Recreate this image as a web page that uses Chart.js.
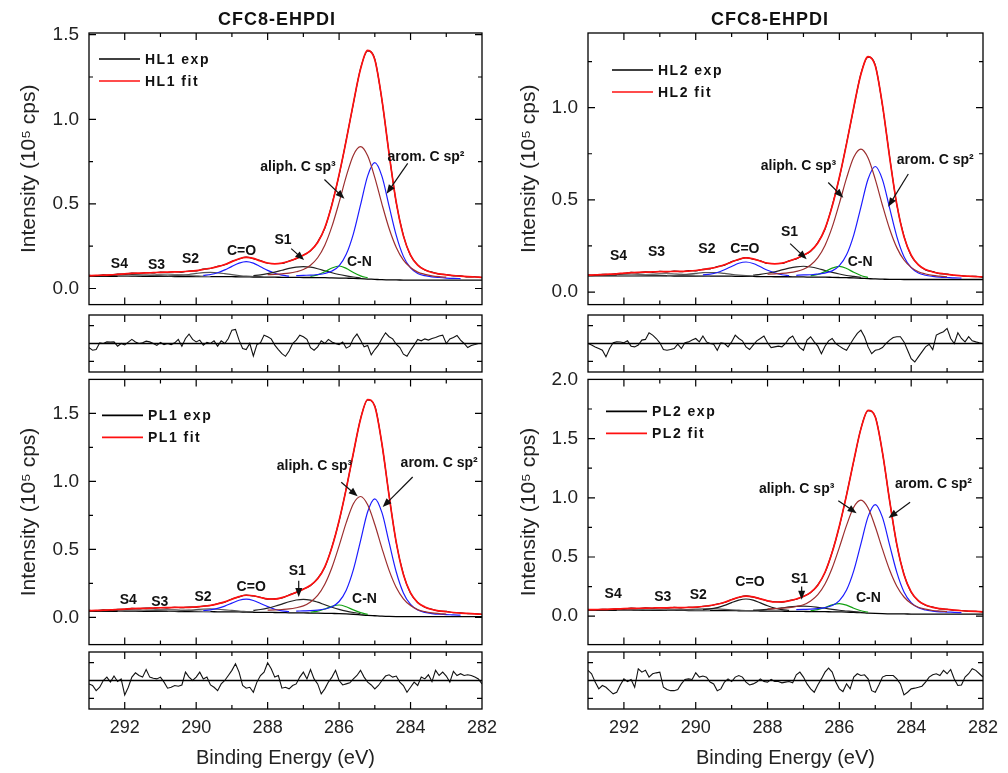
<!DOCTYPE html>
<html>
<head>
<meta charset="utf-8">
<script src="https://cdn.jsdelivr.net/npm/chart.js@4.4.1/dist/chart.umd.min.js"></script>
<style>
  body { margin: 0; background: #fff; overflow: hidden; width: 1008px; height: 773px; }
  canvas { position: absolute; }
</style>
</head>
<body>
<script>
// binding energy grid (eV) for the fitted curves
const energy = [293.0,292.8,292.6,292.4,292.2,292.0,291.8,291.6,291.4,291.2,
  291.0,290.8,290.6,290.4,290.2,290.0,289.8,289.6,289.4,289.2,
  289.0,288.8,288.6,288.4,288.2,288.0,287.8,287.6,287.4,287.2,
  287.0,286.8,286.6,286.4,286.2,286.0,285.8,285.6,285.4,285.2,
  285.0,284.8,284.6,284.4,284.2,284.0,283.8,283.6,283.4,283.2,
  283.0,282.8,282.6,282.4,282.2,282.0];

// energy grid for the residuals
const resEnergy = [293.0,292.9,292.8,292.7,292.6,292.5,292.4,292.3,292.2,292.1,
  292.0,291.9,291.8,291.7,291.6,291.5,291.4,291.3,291.2,291.1,
  291.0,290.9,290.8,290.7,290.6,290.5,290.4,290.3,290.2,290.1,
  290.0,289.9,289.8,289.7,289.6,289.5,289.4,289.3,289.2,289.1,
  289.0,288.9,288.8,288.7,288.6,288.5,288.4,288.3,288.2,288.1,
  288.0,287.9,287.8,287.7,287.6,287.5,287.4,287.3,287.2,287.1,
  287.0,286.9,286.8,286.7,286.6,286.5,286.4,286.3,286.2,286.1,
  286.0,285.9,285.8,285.7,285.6,285.5,285.4,285.3,285.2,285.1,
  285.0,284.9,284.8,284.7,284.6,284.5,284.4,284.3,284.2,284.1,
  284.0,283.9,283.8,283.7,283.6,283.5,283.4,283.3,283.2,283.1,
  283.0,282.9,282.8,282.7,282.6,282.5,282.4,282.3,282.2,282.1,
  282.0];

// ---- HL1 ----
const fitHL1 = [.076,.078,.079,.081,.084,.087,.090,.091,.092,.094,
  .096,.097,.098,.099,.102,.106,.113,.120,.129,.142,
  .159,.176,.184,.178,.163,.151,.146,.150,.161,.178,
  .196,.224,.272,.359,.495,.673,.875,1.096,1.297,1.407,
  1.352,1.115,.795,.509,.311,.198,.138,.111,.095,.087,
  .081,.077,.073,.070,.068,.066];
const expHL1 = [.078,.075,.081,.079,.086,.085,.092,.089,.094,.092,
  .098,.095,.100,.097,.104,.104,.115,.118,.131,.140,
  .161,.174,.186,.176,.165,.149,.148,.148,.163,.176,
  .198,.222,.275,.356,.498,.670,.878,1.093,1.300,1.404,
  1.355,1.112,.798,.506,.314,.195,.140,.109,.097,.085,
  .083,.075,.075,.068,.070,.064];
const baseHL1 = [.072,.072,.072,.072,.072,.072,.072,.072,.072,.072,
  .072,.072,.071,.071,.071,.071,.070,.070,.070,.070,
  .070,.069,.069,.068,.068,.067,.067,.066,.066,.066,
  .065,.065,.064,.064,.063,.062,.061,.060,.058,.056,
  .054,.052,.051,.051,.050,.050,.050,.050,.050,.050,
  .050,.050,.050,.050,.050,.050];
const aliphHL1 = [.082,.084,.087,.091,.099,.112,.138,.182,.256,.367,.509,.663,.788,.838,.784,.655,.499,.355,.243,.168,.124,.097,.084,.075,.070,.067];
const aromHL1 = [.076,.078,.079,.083,.089,.103,.134,.202,.323,.494,.666,.744,.663,.487,.314,.190,.122,.089,.076,.069,.065,.062,.060,.059];
const cnHL1 = [.072,.081,.099,.121,.133,.119,.095,.075,.063];
const s1HL1 = [.077,.081,.088,.097,.108,.119,.127,.130,.126,.117,.105,.093,.083,.075,.068,.063];
const coHL1 = [.078,.083,.093,.110,.131,.150,.159,.150,.129,.107,.090,.079,.073];
const s2HL1 = [.074,.076,.079,.083,.089,.094,.095,.093,.088,.082,.077,.073,.071];
const s3HL1 = [.073,.073,.074,.076,.079,.081,.084,.085,.083,.081,.077,.075,.073,.072];
const s4HL1 = [.073,.074,.075,.077,.079,.081,.082,.081,.079,.077,.075,.073];
const resHL1 = [-0.23,-0.38,-0.34,0.04,0.00,0.09,0.08,0.09,-0.15,0.00,
  -0.08,0.08,0.23,0.09,0.00,0.04,0.13,0.09,0.00,-0.11,
  0.06,-0.06,0.00,-0.06,0.04,0.23,-0.15,0.28,0.53,0.23,
  0.09,0.19,-0.09,0.06,0.00,0.15,-0.15,0.15,0.00,0.28,
  0.75,0.79,0.19,-0.28,-0.34,0.00,-0.70,-0.06,0.04,0.47,
  0.38,0.26,-0.09,-0.34,-0.57,-0.72,-0.42,0.00,0.19,0.47,
  0.38,0.23,-0.23,-0.38,-0.19,0.15,0.00,0.23,0.09,0.00,
  -0.06,0.08,-0.26,-0.15,0.28,0.53,0.19,-0.19,-0.11,-0.64,
  -0.34,-0.09,0.28,0.60,0.38,0.26,-0.04,-0.23,-0.60,-0.72,
  -0.38,-0.09,0.23,0.15,0.26,0.19,0.28,0.34,0.42,0.47,
  0.00,0.26,0.34,0.45,0.19,0.00,-0.23,-0.11,-0.06,0.00,
  0.00];

// ---- HL2 ----
const fitHL2 = [.092,.093,.095,.097,.099,.103,.105,.107,.108,.109,
  .111,.111,.112,.112,.114,.117,.122,.128,.136,.148,
  .163,.178,.185,.180,.168,.157,.153,.157,.168,.182,
  .199,.223,.266,.344,.465,.623,.804,1.002,1.181,1.277,
  1.227,1.015,.731,.476,.300,.200,.147,.122,.109,.101,
  .096,.092,.088,.086,.084,.082];
const expHL2 = [.094,.091,.097,.095,.101,.101,.107,.105,.110,.107,
  .113,.109,.114,.110,.116,.115,.124,.126,.138,.146,
  .165,.176,.187,.178,.170,.155,.155,.155,.170,.180,
  .201,.221,.269,.341,.468,.620,.807,.999,1.184,1.274,
  1.230,1.012,.734,.473,.303,.197,.149,.120,.111,.099,
  .098,.090,.090,.084,.086,.080];
const baseHL2 = [.088,.088,.088,.088,.088,.088,.088,.088,.088,.088,
  .088,.088,.087,.087,.087,.087,.087,.086,.086,.086,
  .086,.085,.085,.085,.084,.084,.083,.083,.083,.082,
  .082,.081,.081,.081,.080,.079,.078,.077,.075,.073,
  .071,.070,.069,.069,.068,.068,.068,.068,.068,.068,
  .068,.068,.068,.068,.068,.068];
const aliphHL2 = [.097,.099,.101,.105,.112,.124,.147,.187,.253,.352,.481,.618,.731,.775,.727,.611,.471,.342,.241,.174,.134,.110,.098,.090,.086,.083];
const aromHL2 = [.091,.093,.094,.098,.103,.115,.143,.202,.309,.461,.613,.681,.610,.455,.301,.192,.132,.103,.091,.085,.081,.079,.077,.076];
const cnHL2 = [.088,.095,.111,.130,.139,.128,.107,.090,.079];
const s1HL2 = [.092,.096,.102,.110,.120,.130,.137,.140,.136,.128,.117,.107,.098,.090,.085,.080];
const coHL2 = [.093,.097,.106,.121,.139,.156,.163,.155,.137,.118,.104,.094,.089];
const s2HL2 = [.090,.091,.094,.097,.101,.105,.106,.105,.101,.096,.092,.089,.087];
const s3HL2 = [.089,.089,.090,.092,.095,.097,.100,.101,.099,.097,.094,.091,.089,.088];
const s4HL2 = [.089,.090,.091,.093,.095,.097,.098,.097,.095,.093,.091,.089];
const resHL2 = [0.00,-0.09,-0.19,-0.28,-0.38,-0.75,-0.28,0.04,0.09,0.08,
  0.04,0.15,-0.15,-0.19,-0.09,0.19,0.23,0.60,0.47,0.28,
  0.04,-0.34,-0.38,-0.34,-0.28,-0.04,-0.28,0.04,0.09,0.19,
  0.28,0.09,0.42,0.09,0.00,-0.04,-0.38,0.04,0.00,-0.19,
  0.09,0.47,0.28,0.15,-0.19,-0.34,-0.09,0.15,0.28,0.42,
  0.04,-0.23,-0.19,-0.15,-0.19,0.00,0.28,0.42,0.04,-0.23,
  -0.38,0.19,0.38,0.09,-0.15,-0.57,-0.15,0.15,0.28,0.00,
  -0.15,-0.28,-0.38,-0.04,0.28,0.57,0.75,0.38,-0.19,-0.57,
  -0.38,-0.34,-0.23,0.00,0.19,0.34,0.38,0.38,0.09,-0.38,
  -0.85,-1.04,-0.75,-0.47,-0.19,-0.04,-0.34,0.47,0.57,0.66,
  0.85,0.28,0.00,0.60,0.28,0.09,0.38,0.15,0.09,0.04,
  0.00];

// ---- PL1 ----
const fitPL1 = [.050,.051,.053,.055,.058,.061,.064,.066,.067,.069,
  .071,.072,.073,.073,.074,.077,.082,.089,.099,.114,
  .134,.153,.163,.159,.146,.136,.135,.145,.163,.185,
  .207,.236,.284,.372,.516,.711,.945,1.209,1.457,1.602,
  1.551,1.275,.894,.552,.315,.180,.109,.077,.058,.048,
  .042,.036,.032,.029,.026,.023];
const expPL1 = [.052,.049,.055,.053,.060,.059,.066,.064,.069,.067,
  .073,.070,.075,.071,.076,.075,.084,.087,.101,.112,
  .136,.151,.165,.157,.148,.134,.137,.143,.165,.183,
  .209,.234,.287,.369,.519,.708,.948,1.206,1.460,1.599,
  1.554,1.272,.897,.549,.318,.177,.111,.075,.060,.046,
  .044,.034,.034,.027,.028,.021];
const basePL1 = [.045,.045,.045,.045,.045,.045,.045,.045,.045,.045,
  .045,.044,.044,.043,.043,.043,.042,.042,.041,.041,
  .041,.040,.039,.038,.037,.037,.036,.035,.034,.033,
  .033,.032,.031,.030,.029,.028,.026,.023,.019,.015,
  .012,.009,.007,.006,.006,.005,.005,.005,.005,.005,
  .005,.005,.005,.005,.005,.005];
const aliphPL1 = [.053,.055,.058,.062,.071,.085,.114,.162,.244,.367,.526,.697,.836,.889,.828,.683,.508,.346,.220,.137,.087,.057,.042,.033,.028,.024];
const aromPL1 = [.046,.048,.050,.054,.062,.078,.117,.200,.351,.563,.777,.872,.770,.551,.334,.180,.095,.054,.037,.028,.023,.021,.018,.016];
const cnPL1 = [.038,.046,.062,.081,.091,.078,.055,.035,.022];
const s1PL1 = [.051,.058,.068,.082,.098,.115,.128,.133,.127,.112,.093,.075,.059,.046,.036,.028];
const coPL1 = [.050,.055,.066,.083,.105,.126,.134,.124,.102,.079,.060,.048,.042];
const s2PL1 = [.046,.047,.050,.053,.057,.061,.062,.060,.056,.051,.046,.043,.040];
const s3PL1 = [.046,.047,.048,.050,.053,.056,.059,.059,.058,.054,.051,.047,.045,.043];
const s4PL1 = [.046,.047,.048,.050,.052,.054,.055,.054,.052,.050,.048,.046];
const resPL1 = [-0.19,-0.28,-0.57,-0.38,0.00,0.19,-0.09,0.25,-0.06,0.09,
  -0.81,-0.38,0.19,0.43,0.28,0.19,0.62,0.19,0.13,0.09,
  0.19,-0.09,-0.43,-0.38,-0.28,-0.32,-0.25,0.47,0.19,0.00,
  0.19,0.47,0.09,0.19,-0.25,-0.38,-0.57,-0.19,0.00,0.28,
  0.57,0.94,0.47,-0.28,-0.43,-0.38,-0.66,-0.09,0.28,0.47,
  1.00,0.66,0.19,0.28,-0.43,-0.38,-0.47,-0.28,-0.19,0.19,
  0.47,0.09,0.62,0.09,-0.19,-0.75,-0.47,-0.09,0.19,0.57,
  0.00,-0.25,-0.19,-0.13,0.09,0.28,0.57,0.19,-0.09,-0.25,
  -0.47,-0.28,0.00,0.25,0.32,0.19,0.25,-0.09,-0.28,-0.66,
  -0.38,-0.09,-0.28,0.19,0.09,0.32,-0.06,0.57,0.28,0.47,
  0.25,-0.09,0.51,0.28,0.38,0.28,0.32,0.28,0.19,0.09,
  -0.19];

// ---- PL2 ----
const fitPL2 = [.055,.056,.057,.059,.061,.064,.066,.067,.068,.069,
  .071,.071,.072,.072,.074,.077,.082,.090,.101,.118,
  .139,.160,.170,.163,.146,.130,.120,.121,.130,.145,
  .166,.201,.262,.371,.539,.762,1.022,1.312,1.582,1.739,
  1.682,1.384,.974,.606,.351,.205,.130,.095,.075,.064,
  .057,.051,.046,.043,.040,.037];
const expPL2 = [.057,.054,.059,.057,.063,.062,.068,.065,.070,.067,
  .073,.069,.074,.070,.076,.075,.084,.088,.103,.116,
  .141,.158,.172,.161,.148,.128,.122,.119,.132,.143,
  .168,.199,.265,.368,.542,.759,1.025,1.309,1.585,1.736,
  1.685,1.381,.977,.603,.354,.202,.132,.093,.077,.062,
  .059,.049,.048,.041,.042,.035];
const basePL2 = [.050,.050,.050,.050,.050,.050,.050,.050,.050,.050,
  .050,.049,.049,.049,.048,.048,.048,.047,.047,.047,
  .047,.046,.045,.045,.044,.043,.043,.042,.041,.041,
  .040,.039,.039,.038,.037,.036,.035,.032,.030,.026,
  .023,.021,.020,.019,.019,.018,.018,.018,.018,.018,
  .018,.018,.018,.018,.018,.018];
const aliphPL2 = [.061,.064,.067,.072,.082,.097,.129,.182,.272,.407,.581,.767,.920,.980,.914,.756,.566,.390,.253,.162,.108,.075,.059,.048,.043,.039];
const aromPL2 = [.055,.057,.059,.064,.072,.090,.132,.221,.383,.611,.841,.943,.835,.601,.370,.205,.114,.071,.052,.043,.037,.035,.032,.030];
const cnPL2 = [.047,.056,.073,.095,.106,.093,.067,.046,.034];
const s1PL2 = [.051,.053,.057,.063,.070,.078,.083,.085,.082,.075,.067,.058,.050,.044,.038,.033];
const coPL2 = [.056,.061,.073,.091,.115,.136,.145,.135,.112,.088,.068,.056,.049];
const s2PL2 = [.051,.052,.053,.056,.059,.062,.062,.061,.058,.054,.051,.048,.046];
const s3PL2 = [.051,.051,.052,.053,.055,.057,.059,.059,.058,.056,.053,.051,.050,.048];
const s4PL2 = [.051,.051,.053,.054,.056,.057,.058,.057,.056,.054,.053,.051];
const resPL2 = [0.57,0.38,-0.09,-0.47,-0.28,-0.38,-0.57,-0.75,-0.66,-0.25,
  0.09,-0.06,0.06,-0.38,0.66,0.47,0.57,0.19,0.38,0.43,
  0.47,-0.38,-0.51,-0.57,-0.57,-0.51,-0.19,0.06,0.09,0.06,
  0.43,0.19,0.25,0.19,-0.09,-0.19,-0.57,-0.47,-0.09,0.09,
  -0.06,0.19,0.28,0.19,-0.09,-0.25,-0.19,-0.09,0.09,-0.06,
  -0.09,0.06,-0.06,-0.06,-0.13,-0.09,-0.06,-0.13,0.32,0.47,
  0.19,-0.19,-0.47,-0.66,-0.25,0.09,0.47,0.70,0.47,-0.09,
  -0.47,-0.62,-0.19,-0.47,0.19,0.38,0.28,0.32,0.09,-0.57,
  -0.66,-0.25,0.19,0.28,0.28,0.28,0.09,-0.19,-0.81,-0.66,
  -0.47,-0.43,-0.38,-0.32,-0.09,0.19,0.32,0.38,0.28,0.57,
  0.38,0.62,0.09,-0.28,-0.25,0.19,0.38,0.66,0.57,0.38,
  0.19];

// component order and where each one starts on the energy grid
const compNames = ['aliph', 'arom', 'C-N', 'S1', 'C=O', 'S2', 'S3', 'S4'];
const compStart = [25, 29, 31, 23, 16, 11, 4, 0];

// peak labels: [text, energy, intensity] and arrows [e1, i1, e2, i2]
const notesHL1 = [['S4',292.15,.144],['S3',291.11,.137],['S2',290.16,.173],['C=O',288.73,.222],['S1',287.57,.283],['C-N',285.43,.154],['aliph. C sp³',287.15,.72],['arom. C sp²',283.57,.774]];
const arrowsHL1 = [[287.34,.236,286.98,.168],[286.41,.644,285.85,.53],[284.08,.74,284.67,.56]];
const notesHL2 = [['S4',292.15,.193],['S3',291.09,.214],['S2',289.69,.231],['C=O',288.63,.231],['S1',287.39,.327],['C-N',285.42,.162],['aliph. C sp³',287.14,.681],['arom. C sp²',283.33,.716]];
const arrowsHL2 = [[287.37,.263,286.91,.178],[286.31,.594,285.89,.512],[284.08,.64,284.64,.463]];
const notesPL1 = [['S4',291.90,.125],['S3',291.02,.113],['S2',289.81,.148],['C=O',288.46,.222],['S1',287.17,.341],['C-N',285.29,.137],['aliph. C sp³',286.69,1.115],['arom. C sp²',283.2,1.133]];
const arrowsPL1 = [[287.13,.27,287.13,.15],[285.94,.994,285.48,.890],[283.94,1.032,284.78,.811]];
const notesPL2 = [['S4',292.30,.189],['S3',290.92,.163],['S2',289.93,.176],['C=O',288.49,.288],['S1',287.11,.315],['C-N',285.19,.155],['aliph. C sp³',287.19,1.07],['arom. C sp²',283.38,1.115]];
const arrowsPL2 = [[287.05,.25,287.05,.138],[286.03,.976,285.52,.87],[284.03,.962,284.63,.83]];

const FONT = '"Liberation Sans", Arial, Helvetica, sans-serif';
const RED = '#ff1010', BLUE = '#1c1cff', BROWN = '#9c2f2f', GREEN = '#12a012';

const cols = [
  {x: 0, w: 500, axisW: 89, padR: 18, titleX: 277},
  {x: 500, w: 508, axisW: 88, padR: 25, titleX: 270}
];
const mainRows = [{top: 0, h: 326, pt: 33, pb: 11}, {top: 358, h: 308, pt: 14, pb: 14}];
const resRows = [{top: 305, h: 77, pt: 10, pb: 10}, {top: 642, h: 131, pt: 10, pb: 0}];

const panels = [
  {col: 0, row: 0, name: 'HL1', fit: fitHL1, exp: expHL1, base: baseHL1,
   comps: [aliphHL1, aromHL1, cnHL1, s1HL1, coHL1, s2HL1, s3HL1, s4HL1], res: resHL1,
   yMin: -0.095, yMax: 1.51, coColor: BLUE, notes: notesHL1, arrows: arrowsHL1, legendAt: [10, 26]},
  {col: 1, row: 0, name: 'HL2', fit: fitHL2, exp: expHL2, base: baseHL2,
   comps: [aliphHL2, aromHL2, cnHL2, s1HL2, coHL2, s2HL2, s3HL2, s4HL2], res: resHL2,
   yMin: -0.068, yMax: 1.405, coColor: BLUE, notes: notesHL2, arrows: arrowsHL2, legendAt: [24, 37]},
  {col: 0, row: 1, name: 'PL1', fit: fitPL1, exp: expPL1, base: basePL1,
   comps: [aliphPL1, aromPL1, cnPL1, s1PL1, coPL1, s2PL1, s3PL1, s4PL1], res: resPL1,
   yMin: -0.2, yMax: 1.75, coColor: BLUE, notes: notesPL1, arrows: arrowsPL1, legendAt: [13, 36]},
  {col: 1, row: 1, name: 'PL2', fit: fitPL2, exp: expPL2, base: basePL2,
   comps: [aliphPL2, aromPL2, cnPL2, s1PL2, coPL2, s2PL2, s3PL2, s4PL2], res: resPL2,
   yMin: -0.24, yMax: 2.0, coColor: '#1a1a1a', notes: notesPL2, arrows: arrowsPL2, legendAt: [18, 32]}
];

function pts(xs, ys, start) {
  return ys.map((y, k) => ({x: xs[start + k], y: y}));
}

function makeCanvas(left, top, w, h) {
  const c = document.createElement('canvas');
  c.width = w; c.height = h;
  c.style.left = left + 'px';
  c.style.top = top + 'px';
  document.body.appendChild(c);
  return c;
}

function arrow(ctx, x1, y1, x2, y2) {
  const a = Math.atan2(y2 - y1, x2 - x1), c = Math.cos(a), s = Math.sin(a);
  ctx.beginPath();
  ctx.moveTo(x1, y1);
  ctx.lineTo(x2 - 6 * c, y2 - 6 * s);
  ctx.stroke();
  ctx.beginPath();
  ctx.moveTo(x2, y2);
  ctx.lineTo(x2 - 9 * c + 3.5 * s, y2 - 9 * s - 3.5 * c);
  ctx.lineTo(x2 - 9 * c - 3.5 * s, y2 - 9 * s + 3.5 * c);
  ctx.closePath();
  ctx.fill();
}

// frame, inward ticks, titles, legend and peak labels
function framePlugin(p, isRes) {
  return {
    id: 'frame',
    afterDraw(chart) {
      const ctx = chart.ctx, a = chart.chartArea, xs = chart.scales.x, ys = chart.scales.y;
      ctx.save();
      ctx.strokeStyle = '#000';
      ctx.lineWidth = 1.3;
      ctx.strokeRect(a.left, a.top, a.right - a.left, a.bottom - a.top);
      ctx.lineWidth = 1.2;
      ctx.beginPath();
      for (let v = 283; v <= 292; v++) {
        const px = xs.getPixelForValue(v);
        const len = v % 2 === 0 ? 7 : 4;
        ctx.moveTo(px, a.top); ctx.lineTo(px, a.top + len);
        ctx.moveTo(px, a.bottom); ctx.lineTo(px, a.bottom - len);
      }
      if (isRes) {
        [-1, 1].forEach(v => {
          const py = ys.getPixelForValue(v);
          ctx.moveTo(a.left, py); ctx.lineTo(a.left + 5, py);
          ctx.moveTo(a.right, py); ctx.lineTo(a.right - 5, py);
        });
        ctx.stroke();
        const z = ys.getPixelForValue(0);
        ctx.lineWidth = 1.4;
        ctx.beginPath();
        ctx.moveTo(a.left, z); ctx.lineTo(a.right, z);
        ctx.stroke();
        ctx.restore();
        return;
      }
      for (let k = Math.ceil(p.yMin * 4); k <= Math.floor(p.yMax * 4 + 1e-6); k++) {
        const py = ys.getPixelForValue(k / 4);
        if (py < a.top + 1 || py > a.bottom - 1) continue;
        const len = k % 2 === 0 ? 7 : 4;
        ctx.moveTo(a.left, py); ctx.lineTo(a.left + len, py);
        ctx.moveTo(a.right, py); ctx.lineTo(a.right - len, py);
      }
      ctx.stroke();

      ctx.fillStyle = '#111';
      ctx.textBaseline = 'middle';
      if (p.row === 0) {
        ctx.font = 'bold 18px ' + FONT;
        ctx.letterSpacing = '1px';
        ctx.textAlign = 'center';
        ctx.fillText('CFC8-EHPDI', cols[p.col].titleX, 20);
      }

      // legend
      ctx.font = 'bold 14px ' + FONT;
      ctx.letterSpacing = '1.5px';
      ctx.textAlign = 'left';
      const lx = a.left + p.legendAt[0], ly = a.top + p.legendAt[1];
      [[p.name + ' exp', '#000'], [p.name + ' fit', RED]].forEach((it, k) => {
        const y = ly + k * 22;
        ctx.strokeStyle = it[1];
        ctx.lineWidth = 1.6;
        ctx.beginPath(); ctx.moveTo(lx, y); ctx.lineTo(lx + 41, y); ctx.stroke();
        ctx.fillText(it[0], lx + 46, y + 1);
      });

      // peak labels
      ctx.letterSpacing = '0px';
      ctx.font = 'bold 14px ' + FONT;
      ctx.textAlign = 'center';
      p.notes.forEach(n => ctx.fillText(n[0], xs.getPixelForValue(n[1]), ys.getPixelForValue(n[2])));
      ctx.strokeStyle = '#111';
      ctx.fillStyle = '#111';
      ctx.lineWidth = 1.2;
      p.arrows.forEach(r => arrow(ctx, xs.getPixelForValue(r[0]), ys.getPixelForValue(r[1]),
                                      xs.getPixelForValue(r[2]), ys.getPixelForValue(r[3])));
      ctx.restore();
    }
  };
}

function lineSet(data, color, width) {
  return {data: data, borderColor: color, borderWidth: width, pointRadius: 0,
          fill: false, cubicInterpolationMode: 'monotone'};
}

const xScale = {type: 'linear', min: 282, max: 293, reverse: true, display: false};

panels.forEach(p => {
  const col = cols[p.col], mr = mainRows[p.row], rr = resRows[p.row];

  const compColors = [BROWN, BLUE, GREEN, '#222', p.coColor, '#555', '#777', '#333'];
  const datasets = [
    lineSet(pts(energy, p.fit, 0), RED, 1.7),
    lineSet(pts(energy, p.exp, 0), '#000', 1.1)
  ];
  p.comps.forEach((c, k) => datasets.push(lineSet(pts(energy, c, compStart[k]), compColors[k], 1.2)));
  datasets.push(lineSet(pts(energy, p.base, 0), '#000', 1.3));

  new Chart(makeCanvas(col.x, mr.top, col.w, mr.h), {
    type: 'line',
    data: {datasets: datasets},
    options: {
      responsive: false, animation: false, devicePixelRatio: 1,
      layout: {padding: {left: 0, right: col.padR, top: mr.pt, bottom: mr.pb}},
      plugins: {legend: {display: false}, tooltip: {enabled: false}, title: {display: false}},
      scales: {
        x: xScale,
        y: {
          type: 'linear', min: p.yMin, max: p.yMax,
          afterFit: s => { s.width = col.axisW; },
          grid: {display: false, drawTicks: false},
          border: {display: false},
          ticks: {stepSize: 0.5, includeBounds: false, padding: 10, color: '#222',
                  font: {size: 19, family: FONT}, callback: v => Number(v).toFixed(1)},
          title: {display: true, text: 'Intensity (10⁵ cps)', color: '#222',
                  font: {size: 21, family: FONT}, padding: {top: 17, bottom: 0}}
        }
      }
    },
    plugins: [framePlugin(p, false)]
  });

  const bottom = p.row === 1;
  new Chart(makeCanvas(col.x, rr.top, col.w, rr.h), {
    type: 'line',
    data: {datasets: [{data: pts(resEnergy, p.res, 0), borderColor: '#111', borderWidth: 1.1,
                       pointRadius: 0, fill: false, tension: 0}]},
    options: {
      responsive: false, animation: false, devicePixelRatio: 1,
      layout: {padding: {left: col.axisW, right: col.padR, top: rr.pt, bottom: rr.pb}},
      plugins: {legend: {display: false}, tooltip: {enabled: false}},
      scales: {
        x: bottom ? {
          type: 'linear', min: 282, max: 293, reverse: true,
          afterFit: s => { s.height = 64; s.paddingLeft = 0; s.paddingRight = 0; },
          grid: {display: false, drawTicks: false},
          border: {display: false},
          ticks: {stepSize: 2, includeBounds: false, padding: 8, maxRotation: 0, autoSkip: false,
                  color: '#222', font: {size: 18, family: FONT}},
          title: {display: true, text: 'Binding Energy (eV)', color: '#222',
                  font: {size: 20, family: FONT}, padding: {top: 0, bottom: 3}}
        } : xScale,
        y: {type: 'linear', min: -1.6, max: 1.6, display: false}
      }
    },
    plugins: [framePlugin(p, true)]
  });
});
</script>
</body>
</html>
